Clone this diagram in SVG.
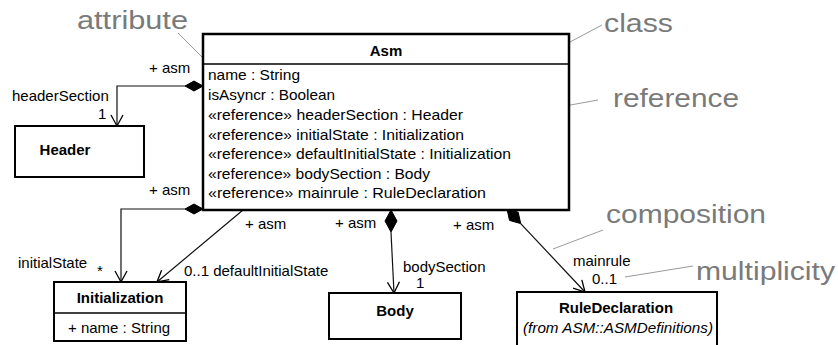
<svg xmlns="http://www.w3.org/2000/svg" width="838" height="345" viewBox="0 0 838 345">
<style>
  .box { fill: #fff; stroke: #000; stroke-width: 2; }
  .sep { stroke: #000; stroke-width: 1.5; }
  .t { font-family: "Liberation Sans", Arial, sans-serif; font-size: 15px; fill: #000; }
  .b { font-weight: bold; text-anchor: middle; }
  .i { font-style: italic; text-anchor: middle; }
  .ann { font-family: "Liberation Sans", Arial, sans-serif; font-size: 26px; fill: #7a7a7a; }
  .lead { stroke: #9a9a9a; stroke-width: 1; fill: none; }
  .conn { stroke: #111; stroke-width: 1.2; fill: none; }
  .dia { fill: #000; stroke: #000; stroke-width: 1; }
</style>
<defs>
  <marker id="open" markerUnits="userSpaceOnUse" markerWidth="14" markerHeight="14" refX="12" refY="7" orient="auto">
    <path d="M1,1 L12,7 L1,13" fill="none" stroke="#000" stroke-width="1.3"/>
  </marker>
</defs>

<g id="annotations">
  <text class="ann" x="77" y="29" textLength="111" lengthAdjust="spacingAndGlyphs">attribute</text>
  <line class="lead" x1="178" y1="33" x2="210" y2="65"/>
  <text class="ann" x="604" y="32" textLength="69" lengthAdjust="spacingAndGlyphs">class</text>
  <line class="lead" x1="602" y1="25" x2="553" y2="51"/>
  <text class="ann" x="613" y="107" textLength="126" lengthAdjust="spacingAndGlyphs">reference</text>
  <line class="lead" x1="598" y1="100" x2="482" y2="121"/>
  <text class="ann" x="606" y="223" textLength="160" lengthAdjust="spacingAndGlyphs">composition</text>
  <line class="lead" x1="603" y1="230" x2="553" y2="249"/>
  <text class="ann" x="696" y="280" textLength="139" lengthAdjust="spacingAndGlyphs">multiplicity</text>
  <line class="lead" x1="693" y1="266" x2="625" y2="277"/>
</g>

<g id="connectors">
  <polyline class="conn" points="185,86 117,86 117,126" marker-end="url(#open)"/>
  <polygon class="dia" points="203,86 194,81 185,86 194,91"/>
  <polyline class="conn" points="185,209 121,209 121,282" marker-end="url(#open)"/>
  <polygon class="dia" points="203,209 194,204 185,209 194,214"/>
  <line class="conn" x1="243" y1="210" x2="157" y2="282" marker-end="url(#open)"/>
  <line class="conn" x1="391" y1="232" x2="394" y2="293" marker-end="url(#open)"/>
  <polygon class="dia" points="391,210 385,221 391,232 397,221"/>
  <line class="conn" x1="520.7" y1="223.6" x2="585" y2="292" marker-end="url(#open)"/>
  <polygon class="dia" points="507,209 518.2,212.2 520.7,223.6 509.5,220.4"/>

  <text class="t" x="149" y="73">+ asm</text>
  <text class="t" x="12" y="101">headerSection</text>
  <text class="t" x="98" y="119">1</text>

  <text class="t" x="149" y="195">+ asm</text>
  <text class="t" x="18" y="268">initialState</text>
  <text class="t" x="97" y="276">*</text>

  <text class="t" x="245" y="229">+ asm</text>
  <text class="t" x="184" y="276">0..1  defaultInitialState</text>

  <text class="t" x="335" y="228">+ asm</text>
  <text class="t" x="403" y="272">bodySection</text>
  <text class="t" x="416" y="288">1</text>

  <text class="t" x="453" y="230">+ asm</text>
  <text class="t" x="573" y="266">mainrule</text>
  <text class="t" x="592" y="284">0..1</text>
</g>

<g id="Asm">
  <rect class="box" x="203" y="34" width="366" height="176" style="stroke-width:2.5"/>
  <line class="sep" x1="203" y1="64" x2="569" y2="64"/>
  <text class="t b" x="386" y="56">Asm</text>
  <text class="t" x="208" y="80" textLength="92" lengthAdjust="spacingAndGlyphs">name : String</text>
  <text class="t" x="208" y="100" textLength="127" lengthAdjust="spacingAndGlyphs">isAsyncr : Boolean</text>
  <text class="t" x="208" y="120" textLength="255" lengthAdjust="spacingAndGlyphs">«reference» headerSection : Header</text>
  <text class="t" x="208" y="140" textLength="256" lengthAdjust="spacingAndGlyphs">«reference» initialState : Initialization</text>
  <text class="t" x="208" y="159" textLength="303" lengthAdjust="spacingAndGlyphs">«reference» defaultInitialState : Initialization</text>
  <text class="t" x="208" y="179" textLength="222" lengthAdjust="spacingAndGlyphs">«reference» bodySection : Body</text>
  <text class="t" x="208" y="198" textLength="278" lengthAdjust="spacingAndGlyphs">«reference» mainrule : RuleDeclaration</text>
</g>

<g id="Header">
  <rect class="box" x="15" y="126" width="129" height="51"/>
  <text class="t b" x="65" y="155">Header</text>
</g>

<g id="Initialization">
  <rect class="box" x="54" y="282" width="132" height="59"/>
  <line class="sep" x1="54" y1="313" x2="186" y2="313"/>
  <text class="t b" x="120" y="303">Initialization</text>
  <text class="t" x="68" y="333">+ name : String</text>
</g>

<g id="Body">
  <rect class="box" x="329" y="293" width="132" height="46"/>
  <text class="t b" x="395" y="316">Body</text>
</g>

<g id="RuleDeclaration">
  <rect class="box" x="517" y="292" width="200" height="60"/>
  <text class="t b" x="616" y="313">RuleDeclaration</text>
  <text class="t i" x="618" y="333" textLength="190" lengthAdjust="spacingAndGlyphs">(from ASM::ASMDefinitions)</text>
</g>
</svg>
